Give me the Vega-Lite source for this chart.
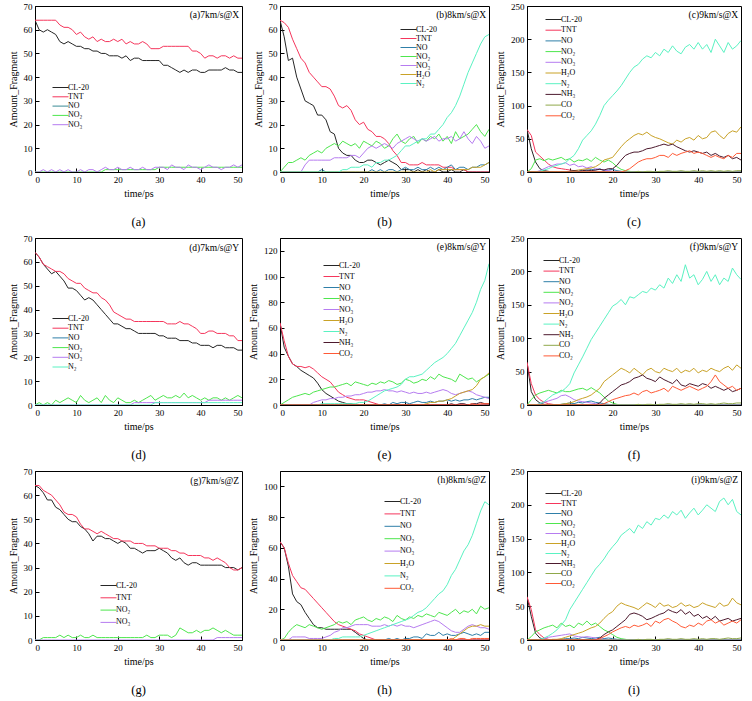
{
"$schema":"https://vega.github.io/schema/vega-lite/v6.json",
"background":"white",
"padding":{"left":7,"top":1,"right":2,"bottom":0},
"columns":3,
"align":"each",
"spacing":{"row":4,"column":5},
"config":{
 "font":"Liberation Serif",
 "view":{"stroke":"black","strokeWidth":1},
 "line":{"strokeWidth":1},
 "axis":{"grid":false,"domainColor":"black","tickColor":"black","tickSize":-4,"labelPadding":7,"labelOverlap":false,"labelFont":"Liberation Serif","labelFontSize":9,"labelColor":"black","titleFont":"Liberation Serif","titleFontSize":10,"titleFontWeight":"normal","titleColor":"black"},
 "legend":{"labelFont":"Liberation Serif","labelFontSize":8,"labelColor":"black","symbolType":"M-2,0H2","symbolStrokeWidth":1.5,"symbolSize":64,"rowPadding":0,"labelOffset":3,"padding":0},
 "title":{"font":"Liberation Serif","fontSize":12.5,"fontWeight":"normal","color":"black","orient":"bottom","anchor":"middle","frame":"group","offset":18}
},
"datasets":{
"a":[
{"t":0,"CL-20":64,"TNT":64,"NO₂":0,"NO₃":0},{"t":1,"CL-20":60,"TNT":64,"NO₂":0,"NO₃":0},{"t":2,"CL-20":59,"TNT":64,"NO₂":0,"NO₃":1},{"t":3,"CL-20":60,"TNT":64,"NO₂":0,"NO₃":0},{"t":4,"CL-20":59,"TNT":64,"NO₂":0,"NO₃":1},{"t":5,"CL-20":58,"TNT":64,"NO₂":0,"NO₃":0},{"t":6,"CL-20":55,"TNT":62,"NO₂":0,"NO₃":1},{"t":7,"CL-20":54,"TNT":61,"NO₂":0,"NO₃":0},{"t":8,"CL-20":55,"TNT":61,"NO₂":0,"NO₃":1},{"t":9,"CL-20":54,"TNT":60,"NO₂":0,"NO₃":0},
{"t":10,"CL-20":53,"TNT":58,"NO₂":0,"NO₃":0},{"t":11,"CL-20":53,"TNT":59,"NO₂":0,"NO₃":1},{"t":12,"CL-20":52,"TNT":57,"NO₂":0,"NO₃":0},{"t":13,"CL-20":52,"TNT":56,"NO₂":0,"NO₃":1},{"t":14,"CL-20":51,"TNT":57,"NO₂":0,"NO₃":1},{"t":15,"CL-20":51,"TNT":55,"NO₂":0,"NO₃":0},{"t":16,"CL-20":50,"TNT":56,"NO₂":0,"NO₃":1},{"t":17,"CL-20":50,"TNT":55,"NO₂":1,"NO₃":2},{"t":18,"CL-20":49,"TNT":55,"NO₂":1,"NO₃":1},{"t":19,"CL-20":49,"TNT":56,"NO₂":1,"NO₃":1},
{"t":20,"CL-20":49,"TNT":55,"NO₂":1,"NO₃":2},{"t":21,"CL-20":48,"TNT":56,"NO₂":1,"NO₃":1},{"t":22,"CL-20":49,"TNT":54,"NO₂":1,"NO₃":1},{"t":23,"CL-20":47,"TNT":55,"NO₂":1,"NO₃":2},{"t":24,"CL-20":48,"TNT":54,"NO₂":1,"NO₃":1},{"t":25,"CL-20":48,"TNT":54,"NO₂":1,"NO₃":1},{"t":26,"CL-20":47,"TNT":55,"NO₂":1,"NO₃":2},{"t":27,"CL-20":47,"TNT":54,"NO₂":1,"NO₃":1},{"t":28,"CL-20":47,"TNT":52,"NO₂":1,"NO₃":1},{"t":29,"CL-20":47,"TNT":52,"NO₂":1,"NO₃":2},
{"t":30,"CL-20":47,"TNT":52,"NO₂":2,"NO₃":2},{"t":31,"CL-20":45,"TNT":53,"NO₂":2,"NO₃":2},{"t":32,"CL-20":45,"TNT":53,"NO₂":2,"NO₃":1},{"t":33,"CL-20":44,"TNT":53,"NO₂":2,"NO₃":3},{"t":34,"CL-20":43,"TNT":53,"NO₂":2,"NO₃":2},{"t":35,"CL-20":42,"TNT":53,"NO₂":2,"NO₃":2},{"t":36,"CL-20":43,"TNT":53,"NO₂":2,"NO₃":1},{"t":37,"CL-20":42,"TNT":53,"NO₂":2,"NO₃":3},{"t":38,"CL-20":43,"TNT":51,"NO₂":2,"NO₃":2},{"t":39,"CL-20":43,"TNT":51,"NO₂":2,"NO₃":2},
{"t":40,"CL-20":42,"TNT":50,"NO₂":2,"NO₃":1},{"t":41,"CL-20":42,"TNT":48,"NO₂":2,"NO₃":2},{"t":42,"CL-20":43,"TNT":49,"NO₂":2,"NO₃":3},{"t":43,"CL-20":43,"TNT":49,"NO₂":2,"NO₃":2},{"t":44,"CL-20":43,"TNT":48,"NO₂":2,"NO₃":2},{"t":45,"CL-20":43,"TNT":49,"NO₂":2,"NO₃":1},{"t":46,"CL-20":44,"TNT":49,"NO₂":2,"NO₃":2},{"t":47,"CL-20":43,"TNT":48,"NO₂":2,"NO₃":2},{"t":48,"CL-20":43,"TNT":49,"NO₂":2,"NO₃":3},{"t":49,"CL-20":42,"TNT":48,"NO₂":2,"NO₃":2},
{"t":50,"CL-20":42,"TNT":48,"NO₂":2,"NO₃":3}
],
"b":[
{"t":0,"CL-20":64,"TNT":64,"NO":0,"NO₂":0,"NO₃":0,"H₂O":0,"N₂":0},{"t":1,"CL-20":57,"TNT":63,"NO":0,"NO₂":2,"NO₃":0,"H₂O":0,"N₂":0},{"t":2,"CL-20":47,"TNT":61,"NO":0,"NO₂":4,"NO₃":0,"H₂O":0,"N₂":0},{"t":3,"CL-20":48,"TNT":56,"NO":0,"NO₂":4,"NO₃":0,"H₂O":0,"N₂":0},{"t":4,"CL-20":40,"TNT":52,"NO":0,"NO₂":5,"NO₃":0,"H₂O":0,"N₂":0},{"t":5,"CL-20":35,"TNT":48,"NO":0,"NO₂":6,"NO₃":0,"H₂O":0,"N₂":0},{"t":6,"CL-20":30,"TNT":46,"NO":0,"NO₂":5,"NO₃":3,"H₂O":0,"N₂":0},{"t":7,"CL-20":29,"TNT":42,"NO":0,"NO₂":7,"NO₃":5,"H₂O":0,"N₂":0},{"t":8,"CL-20":28,"TNT":40,"NO":0,"NO₂":8,"NO₃":5,"H₂O":0,"N₂":0},{"t":9,"CL-20":24,"TNT":38,"NO":0,"NO₂":9,"NO₃":5,"H₂O":0,"N₂":0},
{"t":10,"CL-20":24,"TNT":36,"NO":1,"NO₂":8,"NO₃":5,"H₂O":0,"N₂":0},{"t":11,"CL-20":22,"TNT":36,"NO":0,"NO₂":10,"NO₃":5,"H₂O":0,"N₂":0},{"t":12,"CL-20":17,"TNT":35,"NO":0,"NO₂":11,"NO₃":5,"H₂O":0,"N₂":0},{"t":13,"CL-20":16,"TNT":32,"NO":0,"NO₂":12,"NO₃":6,"H₂O":0,"N₂":0},{"t":14,"CL-20":10,"TNT":28,"NO":0,"NO₂":11,"NO₃":6,"H₂O":0,"N₂":0},{"t":15,"CL-20":8,"TNT":27,"NO":0,"NO₂":13,"NO₃":6,"H₂O":0,"N₂":1},{"t":16,"CL-20":7,"TNT":28,"NO":0,"NO₂":12,"NO₃":6,"H₂O":0,"N₂":1},{"t":17,"CL-20":7,"TNT":26,"NO":0,"NO₂":11,"NO₃":7,"H₂O":0,"N₂":2},{"t":18,"CL-20":5,"TNT":22,"NO":0,"NO₂":12,"NO₃":7,"H₂O":0,"N₂":2},{"t":19,"CL-20":4,"TNT":20,"NO":0,"NO₂":10,"NO₃":6,"H₂O":0,"N₂":2},
{"t":20,"CL-20":4,"TNT":21,"NO":0,"NO₂":13,"NO₃":8,"H₂O":0,"N₂":3},{"t":21,"CL-20":5,"TNT":18,"NO":0,"NO₂":12,"NO₃":10,"H₂O":0,"N₂":3},{"t":22,"CL-20":5,"TNT":17,"NO":1,"NO₂":11,"NO₃":11,"H₂O":0,"N₂":2},{"t":23,"CL-20":4,"TNT":15,"NO":0,"NO₂":13,"NO₃":10,"H₂O":0,"N₂":4},{"t":24,"CL-20":3,"TNT":15,"NO":1,"NO₂":12,"NO₃":11,"H₂O":0,"N₂":4},{"t":25,"CL-20":4,"TNT":14,"NO":0,"NO₂":10,"NO₃":12,"H₂O":0,"N₂":5},{"t":26,"CL-20":5,"TNT":12,"NO":1,"NO₂":11,"NO₃":11,"H₂O":0,"N₂":5},{"t":27,"CL-20":4,"TNT":9,"NO":1,"NO₂":14,"NO₃":10,"H₂O":0,"N₂":6},{"t":28,"CL-20":3,"TNT":7,"NO":0,"NO₂":16,"NO₃":12,"H₂O":0,"N₂":7},{"t":29,"CL-20":1,"TNT":4,"NO":1,"NO₂":13,"NO₃":13,"H₂O":0,"N₂":9},
{"t":30,"CL-20":1,"TNT":4,"NO":2,"NO₂":12,"NO₃":14,"H₂O":0,"N₂":11},{"t":31,"CL-20":1,"TNT":3,"NO":1,"NO₂":14,"NO₃":15,"H₂O":0,"N₂":11},{"t":32,"CL-20":0,"TNT":3,"NO":1,"NO₂":15,"NO₃":14,"H₂O":0,"N₂":12},{"t":33,"CL-20":1,"TNT":3,"NO":2,"NO₂":12,"NO₃":13,"H₂O":0,"N₂":13},{"t":34,"CL-20":0,"TNT":4,"NO":1,"NO₂":14,"NO₃":14,"H₂O":0,"N₂":14},{"t":35,"CL-20":1,"TNT":3,"NO":1,"NO₂":13,"NO₃":13,"H₂O":0,"N₂":14},{"t":36,"CL-20":0,"TNT":3,"NO":2,"NO₂":15,"NO₃":14,"H₂O":1,"N₂":16},{"t":37,"CL-20":0,"TNT":3,"NO":1,"NO₂":14,"NO₃":15,"H₂O":0,"N₂":16},{"t":38,"CL-20":1,"TNT":3,"NO":2,"NO₂":16,"NO₃":13,"H₂O":1,"N₂":18},{"t":39,"CL-20":0,"TNT":2,"NO":1,"NO₂":13,"NO₃":14,"H₂O":1,"N₂":20},
{"t":40,"CL-20":0,"TNT":2,"NO":2,"NO₂":15,"NO₃":14,"H₂O":1,"N₂":23},{"t":41,"CL-20":1,"TNT":2,"NO":3,"NO₂":12,"NO₃":15,"H₂O":1,"N₂":25},{"t":42,"CL-20":0,"TNT":1,"NO":1,"NO₂":17,"NO₃":13,"H₂O":1,"N₂":28},{"t":43,"CL-20":0,"TNT":1,"NO":2,"NO₂":14,"NO₃":14,"H₂O":1,"N₂":32},{"t":44,"CL-20":1,"TNT":1,"NO":2,"NO₂":15,"NO₃":17,"H₂O":1,"N₂":37},{"t":45,"CL-20":0,"TNT":0,"NO":1,"NO₂":16,"NO₃":14,"H₂O":1,"N₂":42},{"t":46,"CL-20":0,"TNT":0,"NO":2,"NO₂":18,"NO₃":12,"H₂O":2,"N₂":46},{"t":47,"CL-20":0,"TNT":0,"NO":2,"NO₂":20,"NO₃":15,"H₂O":2,"N₂":50},{"t":48,"CL-20":0,"TNT":0,"NO":3,"NO₂":17,"NO₃":13,"H₂O":2,"N₂":54},{"t":49,"CL-20":0,"TNT":0,"NO":3,"NO₂":15,"NO₃":10,"H₂O":3,"N₂":57},
{"t":50,"CL-20":0,"TNT":0,"NO":4,"NO₂":18,"NO₃":11,"H₂O":4,"N₂":58}
],
"c":[
{"t":0,"CL-20":64,"TNT":64,"NO":0,"NO₂":0,"NO₃":0,"H₂O":0,"N₂":0,"NH₃":0,"CO":0,"CO₂":0},{"t":1,"CL-20":35,"TNT":55,"NO":0,"NO₂":5,"NO₃":0,"H₂O":0,"N₂":0,"NH₃":0,"CO":0,"CO₂":0},{"t":2,"CL-20":15,"TNT":30,"NO":0,"NO₂":18,"NO₃":0,"H₂O":0,"N₂":0,"NH₃":0,"CO":0,"CO₂":0},{"t":3,"CL-20":5,"TNT":24,"NO":0,"NO₂":20,"NO₃":2,"H₂O":0,"N₂":1,"NH₃":0,"CO":0,"CO₂":0},{"t":4,"CL-20":2,"TNT":18,"NO":0,"NO₂":17,"NO₃":5,"H₂O":0,"N₂":3,"NH₃":0,"CO":0,"CO₂":0},{"t":5,"CL-20":1,"TNT":12,"NO":0,"NO₂":20,"NO₃":8,"H₂O":0,"N₂":5,"NH₃":0,"CO":0,"CO₂":0},{"t":6,"CL-20":0,"TNT":8,"NO":0,"NO₂":18,"NO₃":10,"H₂O":0,"N₂":8,"NH₃":0,"CO":0,"CO₂":0},{"t":7,"CL-20":0,"TNT":6,"NO":0,"NO₂":20,"NO₃":12,"H₂O":0,"N₂":10,"NH₃":0,"CO":0,"CO₂":0},{"t":8,"CL-20":0,"TNT":5,"NO":0,"NO₂":22,"NO₃":12,"H₂O":0,"N₂":12,"NH₃":0,"CO":0,"CO₂":0},{"t":9,"CL-20":0,"TNT":4,"NO":0,"NO₂":18,"NO₃":14,"H₂O":0,"N₂":14,"NH₃":0,"CO":0,"CO₂":0},
{"t":10,"CL-20":0,"TNT":3,"NO":1,"NO₂":20,"NO₃":10,"H₂O":1,"N₂":20,"NH₃":1,"CO":0,"CO₂":0},{"t":11,"CL-20":0,"TNT":2,"NO":2,"NO₂":15,"NO₃":12,"H₂O":2,"N₂":25,"NH₃":2,"CO":0,"CO₂":0},{"t":12,"CL-20":0,"TNT":1,"NO":1,"NO₂":18,"NO₃":8,"H₂O":3,"N₂":35,"NH₃":1,"CO":0,"CO₂":0},{"t":13,"CL-20":0,"TNT":0,"NO":3,"NO₂":17,"NO₃":9,"H₂O":4,"N₂":48,"NH₃":2,"CO":0,"CO₂":0},{"t":14,"CL-20":0,"TNT":0,"NO":2,"NO₂":20,"NO₃":6,"H₂O":5,"N₂":55,"NH₃":3,"CO":0,"CO₂":0},{"t":15,"CL-20":0,"TNT":0,"NO":4,"NO₂":16,"NO₃":8,"H₂O":6,"N₂":62,"NH₃":2,"CO":0,"CO₂":0},{"t":16,"CL-20":0,"TNT":0,"NO":3,"NO₂":22,"NO₃":5,"H₂O":8,"N₂":72,"NH₃":3,"CO":0,"CO₂":0},{"t":17,"CL-20":0,"TNT":0,"NO":5,"NO₂":18,"NO₃":4,"H₂O":12,"N₂":85,"NH₃":4,"CO":0,"CO₂":0},{"t":18,"CL-20":0,"TNT":0,"NO":2,"NO₂":15,"NO₃":3,"H₂O":18,"N₂":100,"NH₃":3,"CO":0,"CO₂":0},{"t":19,"CL-20":0,"TNT":0,"NO":3,"NO₂":18,"NO₃":2,"H₂O":20,"N₂":108,"NH₃":5,"CO":0,"CO₂":0},
{"t":20,"CL-20":0,"TNT":0,"NO":4,"NO₂":14,"NO₃":1,"H₂O":22,"N₂":115,"NH₃":5,"CO":0,"CO₂":0},{"t":21,"CL-20":0,"TNT":0,"NO":2,"NO₂":8,"NO₃":0,"H₂O":30,"N₂":122,"NH₃":10,"CO":0,"CO₂":0},{"t":22,"CL-20":0,"TNT":0,"NO":1,"NO₂":4,"NO₃":0,"H₂O":38,"N₂":130,"NH₃":18,"CO":0,"CO₂":0},{"t":23,"CL-20":0,"TNT":0,"NO":0,"NO₂":2,"NO₃":0,"H₂O":45,"N₂":140,"NH₃":25,"CO":0,"CO₂":2},{"t":24,"CL-20":0,"TNT":0,"NO":0,"NO₂":1,"NO₃":0,"H₂O":50,"N₂":150,"NH₃":28,"CO":0,"CO₂":5},{"t":25,"CL-20":0,"TNT":0,"NO":0,"NO₂":0,"NO₃":0,"H₂O":55,"N₂":158,"NH₃":30,"CO":0,"CO₂":10},{"t":26,"CL-20":0,"TNT":0,"NO":0,"NO₂":0,"NO₃":0,"H₂O":58,"N₂":162,"NH₃":30,"CO":1,"CO₂":15},{"t":27,"CL-20":0,"TNT":0,"NO":0,"NO₂":0,"NO₃":0,"H₂O":56,"N₂":170,"NH₃":32,"CO":0,"CO₂":18},{"t":28,"CL-20":0,"TNT":0,"NO":0,"NO₂":0,"NO₃":0,"H₂O":60,"N₂":175,"NH₃":35,"CO":1,"CO₂":20},{"t":29,"CL-20":0,"TNT":0,"NO":0,"NO₂":0,"NO₃":0,"H₂O":55,"N₂":172,"NH₃":36,"CO":1,"CO₂":20},
{"t":30,"CL-20":0,"TNT":0,"NO":0,"NO₂":0,"NO₃":0,"H₂O":52,"N₂":180,"NH₃":38,"CO":0,"CO₂":22},{"t":31,"CL-20":0,"TNT":0,"NO":0,"NO₂":0,"NO₃":0,"H₂O":50,"N₂":175,"NH₃":40,"CO":1,"CO₂":25},{"t":32,"CL-20":0,"TNT":0,"NO":0,"NO₂":0,"NO₃":0,"H₂O":47,"N₂":185,"NH₃":42,"CO":1,"CO₂":25},{"t":33,"CL-20":0,"TNT":0,"NO":0,"NO₂":0,"NO₃":0,"H₂O":44,"N₂":180,"NH₃":40,"CO":2,"CO₂":22},{"t":34,"CL-20":0,"TNT":0,"NO":0,"NO₂":0,"NO₃":0,"H₂O":42,"N₂":190,"NH₃":42,"CO":1,"CO₂":28},{"t":35,"CL-20":0,"TNT":0,"NO":0,"NO₂":0,"NO₃":0,"H₂O":48,"N₂":182,"NH₃":38,"CO":1,"CO₂":25},{"t":36,"CL-20":0,"TNT":0,"NO":0,"NO₂":0,"NO₃":0,"H₂O":45,"N₂":178,"NH₃":35,"CO":2,"CO₂":28},{"t":37,"CL-20":0,"TNT":0,"NO":0,"NO₂":0,"NO₃":0,"H₂O":50,"N₂":188,"NH₃":32,"CO":1,"CO₂":30},{"t":38,"CL-20":0,"TNT":0,"NO":0,"NO₂":0,"NO₃":0,"H₂O":52,"N₂":192,"NH₃":30,"CO":1,"CO₂":32},{"t":39,"CL-20":0,"TNT":0,"NO":0,"NO₂":0,"NO₃":0,"H₂O":48,"N₂":185,"NH₃":32,"CO":2,"CO₂":28},
{"t":40,"CL-20":0,"TNT":0,"NO":0,"NO₂":0,"NO₃":0,"H₂O":55,"N₂":195,"NH₃":30,"CO":1,"CO₂":30},{"t":41,"CL-20":0,"TNT":0,"NO":0,"NO₂":0,"NO₃":0,"H₂O":50,"N₂":185,"NH₃":28,"CO":2,"CO₂":28},{"t":42,"CL-20":0,"TNT":0,"NO":0,"NO₂":0,"NO₃":0,"H₂O":52,"N₂":192,"NH₃":30,"CO":1,"CO₂":25},{"t":43,"CL-20":0,"TNT":0,"NO":0,"NO₂":0,"NO₃":0,"H₂O":60,"N₂":180,"NH₃":25,"CO":2,"CO₂":22},{"t":44,"CL-20":0,"TNT":0,"NO":0,"NO₂":0,"NO₃":0,"H₂O":62,"N₂":200,"NH₃":28,"CO":1,"CO₂":25},{"t":45,"CL-20":0,"TNT":0,"NO":0,"NO₂":0,"NO₃":0,"H₂O":55,"N₂":190,"NH₃":24,"CO":2,"CO₂":22},{"t":46,"CL-20":0,"TNT":0,"NO":0,"NO₂":0,"NO₃":0,"H₂O":50,"N₂":180,"NH₃":22,"CO":1,"CO₂":20},{"t":47,"CL-20":0,"TNT":0,"NO":0,"NO₂":0,"NO₃":0,"H₂O":58,"N₂":195,"NH₃":25,"CO":2,"CO₂":25},{"t":48,"CL-20":0,"TNT":0,"NO":0,"NO₂":0,"NO₃":0,"H₂O":62,"N₂":185,"NH₃":20,"CO":1,"CO₂":22},{"t":49,"CL-20":0,"TNT":0,"NO":0,"NO₂":0,"NO₃":0,"H₂O":60,"N₂":190,"NH₃":22,"CO":2,"CO₂":28},
{"t":50,"CL-20":0,"TNT":0,"NO":0,"NO₂":0,"NO₃":0,"H₂O":68,"N₂":198,"NH₃":18,"CO":2,"CO₂":28}
],
"d":[
{"t":0,"CL-20":64,"TNT":64,"NO₂":0,"NO₃":0,"N₂":0},{"t":1,"CL-20":62,"TNT":62,"NO₂":1,"NO₃":0,"N₂":0},{"t":2,"CL-20":59,"TNT":59,"NO₂":0,"NO₃":0,"N₂":0},{"t":3,"CL-20":57,"TNT":58,"NO₂":1,"NO₃":0,"N₂":0},{"t":4,"CL-20":55,"TNT":57,"NO₂":0,"NO₃":0,"N₂":0},{"t":5,"CL-20":56,"TNT":56,"NO₂":2,"NO₃":0,"N₂":0},{"t":6,"CL-20":54,"TNT":56,"NO₂":1,"NO₃":0,"N₂":0},{"t":7,"CL-20":52,"TNT":55,"NO₂":2,"NO₃":0,"N₂":0},{"t":8,"CL-20":49,"TNT":53,"NO₂":3,"NO₃":0,"N₂":0},{"t":9,"CL-20":49,"TNT":52,"NO₂":2,"NO₃":0,"N₂":0},
{"t":10,"CL-20":48,"TNT":51,"NO₂":1,"NO₃":0,"N₂":0},{"t":11,"CL-20":46,"TNT":51,"NO₂":4,"NO₃":0,"N₂":0},{"t":12,"CL-20":44,"TNT":49,"NO₂":2,"NO₃":0,"N₂":0},{"t":13,"CL-20":45,"TNT":48,"NO₂":1,"NO₃":0,"N₂":0},{"t":14,"CL-20":44,"TNT":47,"NO₂":2,"NO₃":0,"N₂":0},{"t":15,"CL-20":42,"TNT":47,"NO₂":3,"NO₃":0,"N₂":0},{"t":16,"CL-20":40,"TNT":45,"NO₂":1,"NO₃":0,"N₂":0},{"t":17,"CL-20":38,"TNT":44,"NO₂":4,"NO₃":0,"N₂":0},{"t":18,"CL-20":36,"TNT":42,"NO₂":2,"NO₃":0,"N₂":0},{"t":19,"CL-20":34,"TNT":39,"NO₂":1,"NO₃":0,"N₂":0},
{"t":20,"CL-20":34,"TNT":38,"NO₂":3,"NO₃":0,"N₂":0},{"t":21,"CL-20":33,"TNT":37,"NO₂":2,"NO₃":0,"N₂":0},{"t":22,"CL-20":32,"TNT":36,"NO₂":1,"NO₃":0,"N₂":0},{"t":23,"CL-20":32,"TNT":36,"NO₂":1,"NO₃":0,"N₂":0},{"t":24,"CL-20":31,"TNT":35,"NO₂":2,"NO₃":1,"N₂":0},{"t":25,"CL-20":30,"TNT":35,"NO₂":1,"NO₃":1,"N₂":0},{"t":26,"CL-20":30,"TNT":35,"NO₂":2,"NO₃":1,"N₂":0},{"t":27,"CL-20":30,"TNT":35,"NO₂":3,"NO₃":1,"N₂":0},{"t":28,"CL-20":30,"TNT":35,"NO₂":4,"NO₃":1,"N₂":0},{"t":29,"CL-20":30,"TNT":35,"NO₂":2,"NO₃":1,"N₂":1},
{"t":30,"CL-20":29,"TNT":35,"NO₂":3,"NO₃":1,"N₂":1},{"t":31,"CL-20":29,"TNT":35,"NO₂":4,"NO₃":1,"N₂":1},{"t":32,"CL-20":28,"TNT":34,"NO₂":3,"NO₃":1,"N₂":1},{"t":33,"CL-20":28,"TNT":34,"NO₂":3,"NO₃":1,"N₂":1},{"t":34,"CL-20":28,"TNT":34,"NO₂":4,"NO₃":1,"N₂":1},{"t":35,"CL-20":27,"TNT":35,"NO₂":3,"NO₃":1,"N₂":1},{"t":36,"CL-20":27,"TNT":34,"NO₂":5,"NO₃":1,"N₂":1},{"t":37,"CL-20":27,"TNT":34,"NO₂":3,"NO₃":1,"N₂":1},{"t":38,"CL-20":26,"TNT":33,"NO₂":4,"NO₃":1,"N₂":1},{"t":39,"CL-20":26,"TNT":32,"NO₂":3,"NO₃":1,"N₂":1},
{"t":40,"CL-20":25,"TNT":30,"NO₂":2,"NO₃":1,"N₂":1},{"t":41,"CL-20":25,"TNT":30,"NO₂":3,"NO₃":1,"N₂":1},{"t":42,"CL-20":25,"TNT":31,"NO₂":2,"NO₃":2,"N₂":1},{"t":43,"CL-20":24,"TNT":31,"NO₂":3,"NO₃":2,"N₂":1},{"t":44,"CL-20":25,"TNT":30,"NO₂":3,"NO₃":2,"N₂":1},{"t":45,"CL-20":25,"TNT":30,"NO₂":2,"NO₃":2,"N₂":1},{"t":46,"CL-20":24,"TNT":30,"NO₂":3,"NO₃":2,"N₂":1},{"t":47,"CL-20":24,"TNT":29,"NO₂":2,"NO₃":2,"N₂":1},{"t":48,"CL-20":24,"TNT":29,"NO₂":3,"NO₃":2,"N₂":1},{"t":49,"CL-20":23,"TNT":27,"NO₂":4,"NO₃":2,"N₂":1},
{"t":50,"CL-20":23,"TNT":27,"NO₂":3,"NO₃":2,"N₂":1}
],
"e":[
{"t":0,"CL-20":64,"TNT":64,"NO":0,"NO₂":0,"NO₃":0,"H₂O":0,"N₂":0,"NH₃":0,"CO₂":0},{"t":1,"CL-20":45,"TNT":50,"NO":0,"NO₂":2,"NO₃":0,"H₂O":0,"N₂":0,"NH₃":0,"CO₂":0},{"t":2,"CL-20":38,"TNT":38,"NO":0,"NO₂":4,"NO₃":0,"H₂O":0,"N₂":0,"NH₃":0,"CO₂":0},{"t":3,"CL-20":32,"TNT":32,"NO":0,"NO₂":6,"NO₃":0,"H₂O":0,"N₂":0,"NH₃":0,"CO₂":0},{"t":4,"CL-20":30,"TNT":30,"NO":0,"NO₂":7,"NO₃":0,"H₂O":0,"N₂":0,"NH₃":0,"CO₂":0},{"t":5,"CL-20":27,"TNT":30,"NO":0,"NO₂":8,"NO₃":0,"H₂O":0,"N₂":0,"NH₃":0,"CO₂":0},{"t":6,"CL-20":25,"TNT":29,"NO":0,"NO₂":9,"NO₃":0,"H₂O":0,"N₂":0,"NH₃":0,"CO₂":0},{"t":7,"CL-20":23,"TNT":30,"NO":0,"NO₂":8,"NO₃":0,"H₂O":0,"N₂":0,"NH₃":0,"CO₂":0},{"t":8,"CL-20":21,"TNT":28,"NO":0,"NO₂":10,"NO₃":2,"H₂O":0,"N₂":0,"NH₃":0,"CO₂":0},{"t":9,"CL-20":17,"TNT":25,"NO":0,"NO₂":11,"NO₃":3,"H₂O":0,"N₂":0,"NH₃":0,"CO₂":0},
{"t":10,"CL-20":12,"TNT":22,"NO":0,"NO₂":12,"NO₃":4,"H₂O":0,"N₂":1,"NH₃":0,"CO₂":0},{"t":11,"CL-20":9,"TNT":20,"NO":0,"NO₂":13,"NO₃":4,"H₂O":0,"N₂":1,"NH₃":0,"CO₂":0},{"t":12,"CL-20":7,"TNT":18,"NO":0,"NO₂":14,"NO₃":5,"H₂O":0,"N₂":1,"NH₃":0,"CO₂":0},{"t":13,"CL-20":5,"TNT":14,"NO":0,"NO₂":14,"NO₃":5,"H₂O":0,"N₂":1,"NH₃":0,"CO₂":0},{"t":14,"CL-20":3,"TNT":10,"NO":0,"NO₂":15,"NO₃":6,"H₂O":0,"N₂":1,"NH₃":0,"CO₂":0},{"t":15,"CL-20":2,"TNT":8,"NO":0,"NO₂":16,"NO₃":6,"H₂O":0,"N₂":1,"NH₃":0,"CO₂":0},{"t":16,"CL-20":1,"TNT":6,"NO":0,"NO₂":17,"NO₃":7,"H₂O":0,"N₂":1,"NH₃":0,"CO₂":0},{"t":17,"CL-20":1,"TNT":5,"NO":0,"NO₂":15,"NO₃":7,"H₂O":0,"N₂":1,"NH₃":0,"CO₂":0},{"t":18,"CL-20":0,"TNT":4,"NO":0,"NO₂":18,"NO₃":8,"H₂O":0,"N₂":1,"NH₃":0,"CO₂":0},{"t":19,"CL-20":0,"TNT":4,"NO":0,"NO₂":17,"NO₃":8,"H₂O":0,"N₂":2,"NH₃":0,"CO₂":0},
{"t":20,"CL-20":0,"TNT":4,"NO":0,"NO₂":16,"NO₃":9,"H₂O":0,"N₂":2,"NH₃":0,"CO₂":0},{"t":21,"CL-20":0,"TNT":3,"NO":0,"NO₂":15,"NO₃":10,"H₂O":0,"N₂":3,"NH₃":0,"CO₂":0},{"t":22,"CL-20":0,"TNT":2,"NO":0,"NO₂":17,"NO₃":10,"H₂O":0,"N₂":5,"NH₃":0,"CO₂":0},{"t":23,"CL-20":0,"TNT":1,"NO":0,"NO₂":16,"NO₃":11,"H₂O":0,"N₂":7,"NH₃":0,"CO₂":0},{"t":24,"CL-20":0,"TNT":0,"NO":0,"NO₂":18,"NO₃":11,"H₂O":0,"N₂":9,"NH₃":0,"CO₂":0},{"t":25,"CL-20":0,"TNT":0,"NO":1,"NO₂":17,"NO₃":12,"H₂O":0,"N₂":11,"NH₃":0,"CO₂":0},{"t":26,"CL-20":0,"TNT":0,"NO":0,"NO₂":19,"NO₃":11,"H₂O":0,"N₂":12,"NH₃":0,"CO₂":0},{"t":27,"CL-20":0,"TNT":0,"NO":2,"NO₂":18,"NO₃":11,"H₂O":0,"N₂":13,"NH₃":0,"CO₂":0},{"t":28,"CL-20":0,"TNT":0,"NO":1,"NO₂":16,"NO₃":10,"H₂O":0,"N₂":14,"NH₃":0,"CO₂":0},{"t":29,"CL-20":0,"TNT":0,"NO":2,"NO₂":17,"NO₃":11,"H₂O":0,"N₂":16,"NH₃":0,"CO₂":0},
{"t":30,"CL-20":0,"TNT":0,"NO":2,"NO₂":20,"NO₃":10,"H₂O":0,"N₂":20,"NH₃":0,"CO₂":0},{"t":31,"CL-20":0,"TNT":0,"NO":1,"NO₂":19,"NO₃":9,"H₂O":0,"N₂":22,"NH₃":0,"CO₂":0},{"t":32,"CL-20":0,"TNT":0,"NO":2,"NO₂":17,"NO₃":10,"H₂O":0,"N₂":22,"NH₃":0,"CO₂":0},{"t":33,"CL-20":0,"TNT":0,"NO":3,"NO₂":18,"NO₃":9,"H₂O":0,"N₂":23,"NH₃":0,"CO₂":0},{"t":34,"CL-20":0,"TNT":0,"NO":2,"NO₂":20,"NO₃":9,"H₂O":0,"N₂":24,"NH₃":0,"CO₂":0},{"t":35,"CL-20":0,"TNT":0,"NO":2,"NO₂":19,"NO₃":10,"H₂O":1,"N₂":27,"NH₃":0,"CO₂":0},{"t":36,"CL-20":0,"TNT":0,"NO":3,"NO₂":22,"NO₃":9,"H₂O":2,"N₂":30,"NH₃":0,"CO₂":0},{"t":37,"CL-20":0,"TNT":0,"NO":2,"NO₂":20,"NO₃":10,"H₂O":2,"N₂":33,"NH₃":0,"CO₂":0},{"t":38,"CL-20":0,"TNT":0,"NO":3,"NO₂":24,"NO₃":11,"H₂O":3,"N₂":35,"NH₃":0,"CO₂":0},{"t":39,"CL-20":0,"TNT":0,"NO":3,"NO₂":22,"NO₃":12,"H₂O":3,"N₂":37,"NH₃":0,"CO₂":0},
{"t":40,"CL-20":0,"TNT":0,"NO":4,"NO₂":21,"NO₃":11,"H₂O":4,"N₂":40,"NH₃":0,"CO₂":0},{"t":41,"CL-20":0,"TNT":0,"NO":3,"NO₂":20,"NO₃":9,"H₂O":5,"N₂":44,"NH₃":1,"CO₂":0},{"t":42,"CL-20":0,"TNT":0,"NO":4,"NO₂":18,"NO₃":8,"H₂O":7,"N₂":48,"NH₃":0,"CO₂":0},{"t":43,"CL-20":0,"TNT":0,"NO":3,"NO₂":24,"NO₃":9,"H₂O":9,"N₂":54,"NH₃":1,"CO₂":0},{"t":44,"CL-20":0,"TNT":0,"NO":4,"NO₂":22,"NO₃":10,"H₂O":10,"N₂":60,"NH₃":1,"CO₂":0},{"t":45,"CL-20":0,"TNT":0,"NO":4,"NO₂":20,"NO₃":11,"H₂O":11,"N₂":66,"NH₃":0,"CO₂":0},{"t":46,"CL-20":0,"TNT":0,"NO":5,"NO₂":21,"NO₃":10,"H₂O":12,"N₂":72,"NH₃":1,"CO₂":1},{"t":47,"CL-20":0,"TNT":0,"NO":4,"NO₂":18,"NO₃":8,"H₂O":15,"N₂":80,"NH₃":1,"CO₂":0},{"t":48,"CL-20":0,"TNT":0,"NO":5,"NO₂":20,"NO₃":7,"H₂O":20,"N₂":90,"NH₃":2,"CO₂":1},{"t":49,"CL-20":0,"TNT":0,"NO":6,"NO₂":22,"NO₃":6,"H₂O":22,"N₂":97,"NH₃":1,"CO₂":1},
{"t":50,"CL-20":0,"TNT":0,"NO":6,"NO₂":24,"NO₃":5,"H₂O":25,"N₂":110,"NH₃":1,"CO₂":1}
],
"f":[
{"t":0,"CL-20":64,"TNT":64,"NO":0,"NO₂":0,"NO₃":0,"H₂O":0,"N₂":0,"NH₃":0,"CO":0,"CO₂":0},{"t":1,"CL-20":20,"TNT":32,"NO":0,"NO₂":8,"NO₃":0,"H₂O":0,"N₂":0,"NH₃":0,"CO":0,"CO₂":0},{"t":2,"CL-20":8,"TNT":15,"NO":0,"NO₂":15,"NO₃":0,"H₂O":0,"N₂":0,"NH₃":0,"CO":0,"CO₂":0},{"t":3,"CL-20":3,"TNT":8,"NO":0,"NO₂":18,"NO₃":2,"H₂O":0,"N₂":2,"NH₃":0,"CO":0,"CO₂":0},{"t":4,"CL-20":1,"TNT":4,"NO":0,"NO₂":20,"NO₃":4,"H₂O":0,"N₂":5,"NH₃":0,"CO":0,"CO₂":0},{"t":5,"CL-20":0,"TNT":2,"NO":0,"NO₂":22,"NO₃":6,"H₂O":0,"N₂":10,"NH₃":0,"CO":0,"CO₂":0},{"t":6,"CL-20":0,"TNT":1,"NO":0,"NO₂":20,"NO₃":8,"H₂O":0,"N₂":15,"NH₃":0,"CO":0,"CO₂":0},{"t":7,"CL-20":0,"TNT":0,"NO":0,"NO₂":18,"NO₃":10,"H₂O":0,"N₂":18,"NH₃":0,"CO":0,"CO₂":0},{"t":8,"CL-20":0,"TNT":0,"NO":1,"NO₂":22,"NO₃":14,"H₂O":1,"N₂":20,"NH₃":0,"CO":0,"CO₂":0},{"t":9,"CL-20":0,"TNT":0,"NO":2,"NO₂":20,"NO₃":15,"H₂O":2,"N₂":25,"NH₃":0,"CO":0,"CO₂":0},
{"t":10,"CL-20":0,"TNT":0,"NO":3,"NO₂":20,"NO₃":12,"H₂O":3,"N₂":32,"NH₃":0,"CO":0,"CO₂":0},{"t":11,"CL-20":0,"TNT":0,"NO":2,"NO₂":22,"NO₃":8,"H₂O":5,"N₂":48,"NH₃":0,"CO":0,"CO₂":0},{"t":12,"CL-20":0,"TNT":0,"NO":4,"NO₂":24,"NO₃":6,"H₂O":8,"N₂":60,"NH₃":0,"CO":0,"CO₂":0},{"t":13,"CL-20":0,"TNT":0,"NO":3,"NO₂":25,"NO₃":5,"H₂O":10,"N₂":72,"NH₃":0,"CO":0,"CO₂":0},{"t":14,"CL-20":0,"TNT":0,"NO":5,"NO₂":22,"NO₃":4,"H₂O":12,"N₂":85,"NH₃":0,"CO":0,"CO₂":0},{"t":15,"CL-20":0,"TNT":0,"NO":6,"NO₂":26,"NO₃":3,"H₂O":15,"N₂":98,"NH₃":0,"CO":0,"CO₂":0},{"t":16,"CL-20":0,"TNT":0,"NO":4,"NO₂":22,"NO₃":2,"H₂O":20,"N₂":108,"NH₃":0,"CO":0,"CO₂":0},{"t":17,"CL-20":0,"TNT":0,"NO":3,"NO₂":18,"NO₃":1,"H₂O":25,"N₂":118,"NH₃":3,"CO":0,"CO₂":0},{"t":18,"CL-20":0,"TNT":0,"NO":2,"NO₂":12,"NO₃":0,"H₂O":35,"N₂":128,"NH₃":10,"CO":0,"CO₂":2},{"t":19,"CL-20":0,"TNT":0,"NO":1,"NO₂":6,"NO₃":0,"H₂O":40,"N₂":138,"NH₃":15,"CO":0,"CO₂":5},
{"t":20,"CL-20":0,"TNT":0,"NO":0,"NO₂":3,"NO₃":0,"H₂O":45,"N₂":148,"NH₃":20,"CO":0,"CO₂":8},{"t":21,"CL-20":0,"TNT":0,"NO":0,"NO₂":1,"NO₃":0,"H₂O":50,"N₂":152,"NH₃":25,"CO":0,"CO₂":10},{"t":22,"CL-20":0,"TNT":0,"NO":0,"NO₂":0,"NO₃":0,"H₂O":55,"N₂":158,"NH₃":30,"CO":0,"CO₂":12},{"t":23,"CL-20":0,"TNT":0,"NO":0,"NO₂":0,"NO₃":0,"H₂O":52,"N₂":150,"NH₃":32,"CO":0,"CO₂":14},{"t":24,"CL-20":0,"TNT":0,"NO":0,"NO₂":0,"NO₃":0,"H₂O":48,"N₂":162,"NH₃":35,"CO":0,"CO₂":15},{"t":25,"CL-20":0,"TNT":0,"NO":0,"NO₂":0,"NO₃":0,"H₂O":55,"N₂":160,"NH₃":40,"CO":0,"CO₂":18},{"t":26,"CL-20":0,"TNT":0,"NO":0,"NO₂":0,"NO₃":0,"H₂O":50,"N₂":165,"NH₃":42,"CO":1,"CO₂":15},{"t":27,"CL-20":0,"TNT":0,"NO":0,"NO₂":0,"NO₃":0,"H₂O":45,"N₂":170,"NH₃":45,"CO":0,"CO₂":20},{"t":28,"CL-20":0,"TNT":0,"NO":0,"NO₂":0,"NO₃":0,"H₂O":52,"N₂":168,"NH₃":40,"CO":1,"CO₂":22},{"t":29,"CL-20":0,"TNT":0,"NO":0,"NO₂":0,"NO₃":0,"H₂O":55,"N₂":175,"NH₃":38,"CO":1,"CO₂":18},
{"t":30,"CL-20":0,"TNT":0,"NO":0,"NO₂":0,"NO₃":0,"H₂O":50,"N₂":172,"NH₃":35,"CO":0,"CO₂":20},{"t":31,"CL-20":0,"TNT":0,"NO":0,"NO₂":0,"NO₃":0,"H₂O":48,"N₂":180,"NH₃":42,"CO":1,"CO₂":22},{"t":32,"CL-20":0,"TNT":0,"NO":0,"NO₂":0,"NO₃":0,"H₂O":55,"N₂":175,"NH₃":38,"CO":1,"CO₂":25},{"t":33,"CL-20":0,"TNT":0,"NO":0,"NO₂":0,"NO₃":0,"H₂O":52,"N₂":190,"NH₃":35,"CO":2,"CO₂":20},{"t":34,"CL-20":0,"TNT":0,"NO":0,"NO₂":0,"NO₃":0,"H₂O":50,"N₂":182,"NH₃":32,"CO":1,"CO₂":28},{"t":35,"CL-20":0,"TNT":0,"NO":0,"NO₂":0,"NO₃":0,"H₂O":55,"N₂":195,"NH₃":38,"CO":1,"CO₂":25},{"t":36,"CL-20":0,"TNT":0,"NO":0,"NO₂":0,"NO₃":0,"H₂O":48,"N₂":185,"NH₃":30,"CO":2,"CO₂":22},{"t":37,"CL-20":0,"TNT":0,"NO":0,"NO₂":0,"NO₃":0,"H₂O":52,"N₂":210,"NH₃":28,"CO":1,"CO₂":25},{"t":38,"CL-20":0,"TNT":0,"NO":0,"NO₂":0,"NO₃":0,"H₂O":50,"N₂":190,"NH₃":32,"CO":2,"CO₂":28},{"t":39,"CL-20":0,"TNT":0,"NO":0,"NO₂":0,"NO₃":0,"H₂O":55,"N₂":195,"NH₃":30,"CO":1,"CO₂":25},
{"t":40,"CL-20":0,"TNT":0,"NO":0,"NO₂":0,"NO₃":0,"H₂O":48,"N₂":180,"NH₃":28,"CO":2,"CO₂":22},{"t":41,"CL-20":0,"TNT":0,"NO":0,"NO₂":0,"NO₃":0,"H₂O":52,"N₂":188,"NH₃":32,"CO":2,"CO₂":25},{"t":42,"CL-20":0,"TNT":0,"NO":0,"NO₂":0,"NO₃":0,"H₂O":50,"N₂":200,"NH₃":30,"CO":1,"CO₂":28},{"t":43,"CL-20":0,"TNT":0,"NO":0,"NO₂":0,"NO₃":0,"H₂O":55,"N₂":185,"NH₃":25,"CO":2,"CO₂":35},{"t":44,"CL-20":0,"TNT":0,"NO":0,"NO₂":0,"NO₃":0,"H₂O":52,"N₂":195,"NH₃":28,"CO":1,"CO₂":45},{"t":45,"CL-20":0,"TNT":0,"NO":0,"NO₂":0,"NO₃":0,"H₂O":50,"N₂":180,"NH₃":25,"CO":2,"CO₂":35},{"t":46,"CL-20":0,"TNT":0,"NO":0,"NO₂":0,"NO₃":0,"H₂O":55,"N₂":190,"NH₃":22,"CO":3,"CO₂":30},{"t":47,"CL-20":0,"TNT":0,"NO":0,"NO₂":0,"NO₃":0,"H₂O":58,"N₂":185,"NH₃":25,"CO":2,"CO₂":25},{"t":48,"CL-20":0,"TNT":0,"NO":0,"NO₂":0,"NO₃":0,"H₂O":52,"N₂":205,"NH₃":20,"CO":2,"CO₂":28},{"t":49,"CL-20":0,"TNT":0,"NO":0,"NO₂":0,"NO₃":0,"H₂O":60,"N₂":195,"NH₃":22,"CO":3,"CO₂":22},
{"t":50,"CL-20":0,"TNT":0,"NO":0,"NO₂":0,"NO₃":0,"H₂O":55,"N₂":188,"NH₃":25,"CO":3,"CO₂":25}
],
"g":[
{"t":0,"CL-20":64,"TNT":64,"NO₂":0,"NO₃":0},{"t":1,"CL-20":63,"TNT":64,"NO₂":0,"NO₃":0},{"t":2,"CL-20":61,"TNT":62,"NO₂":1,"NO₃":0},{"t":3,"CL-20":58,"TNT":61,"NO₂":1,"NO₃":0},{"t":4,"CL-20":58,"TNT":60,"NO₂":1,"NO₃":0},{"t":5,"CL-20":55,"TNT":58,"NO₂":1,"NO₃":0},{"t":6,"CL-20":54,"TNT":56,"NO₂":2,"NO₃":0},{"t":7,"CL-20":52,"TNT":53,"NO₂":1,"NO₃":0},{"t":8,"CL-20":50,"TNT":52,"NO₂":2,"NO₃":0},{"t":9,"CL-20":49,"TNT":52,"NO₂":1,"NO₃":0},
{"t":10,"CL-20":49,"TNT":51,"NO₂":1,"NO₃":0},{"t":11,"CL-20":47,"TNT":48,"NO₂":2,"NO₃":0},{"t":12,"CL-20":46,"TNT":46,"NO₂":1,"NO₃":0},{"t":13,"CL-20":44,"TNT":46,"NO₂":1,"NO₃":0},{"t":14,"CL-20":41,"TNT":45,"NO₂":2,"NO₃":0},{"t":15,"CL-20":43,"TNT":44,"NO₂":1,"NO₃":0},{"t":16,"CL-20":43,"TNT":45,"NO₂":1,"NO₃":0},{"t":17,"CL-20":42,"TNT":44,"NO₂":1,"NO₃":0},{"t":18,"CL-20":42,"TNT":43,"NO₂":1,"NO₃":0},{"t":19,"CL-20":41,"TNT":42,"NO₂":1,"NO₃":0},
{"t":20,"CL-20":40,"TNT":42,"NO₂":1,"NO₃":0},{"t":21,"CL-20":41,"TNT":41,"NO₂":1,"NO₃":0},{"t":22,"CL-20":40,"TNT":41,"NO₂":1,"NO₃":0},{"t":23,"CL-20":38,"TNT":41,"NO₂":1,"NO₃":0},{"t":24,"CL-20":38,"TNT":40,"NO₂":1,"NO₃":0},{"t":25,"CL-20":37,"TNT":40,"NO₂":1,"NO₃":0},{"t":26,"CL-20":36,"TNT":40,"NO₂":1,"NO₃":0},{"t":27,"CL-20":37,"TNT":39,"NO₂":2,"NO₃":0},{"t":28,"CL-20":37,"TNT":39,"NO₂":1,"NO₃":0},{"t":29,"CL-20":37,"TNT":39,"NO₂":1,"NO₃":0},
{"t":30,"CL-20":38,"TNT":38,"NO₂":2,"NO₃":0},{"t":31,"CL-20":37,"TNT":38,"NO₂":2,"NO₃":0},{"t":32,"CL-20":36,"TNT":38,"NO₂":2,"NO₃":0},{"t":33,"CL-20":34,"TNT":37,"NO₂":1,"NO₃":0},{"t":34,"CL-20":33,"TNT":37,"NO₂":2,"NO₃":0},{"t":35,"CL-20":34,"TNT":36,"NO₂":5,"NO₃":0},{"t":36,"CL-20":32,"TNT":36,"NO₂":4,"NO₃":0},{"t":37,"CL-20":31,"TNT":35,"NO₂":3,"NO₃":0},{"t":38,"CL-20":32,"TNT":35,"NO₂":3,"NO₃":0},{"t":39,"CL-20":32,"TNT":35,"NO₂":4,"NO₃":0},
{"t":40,"CL-20":31,"TNT":35,"NO₂":3,"NO₃":0},{"t":41,"CL-20":31,"TNT":34,"NO₂":4,"NO₃":0},{"t":42,"CL-20":31,"TNT":34,"NO₂":4,"NO₃":0},{"t":43,"CL-20":31,"TNT":33,"NO₂":5,"NO₃":0},{"t":44,"CL-20":31,"TNT":34,"NO₂":4,"NO₃":1},{"t":45,"CL-20":31,"TNT":33,"NO₂":3,"NO₃":1},{"t":46,"CL-20":30,"TNT":32,"NO₂":4,"NO₃":1},{"t":47,"CL-20":30,"TNT":30,"NO₂":3,"NO₃":1},{"t":48,"CL-20":30,"TNT":29,"NO₂":2,"NO₃":1},{"t":49,"CL-20":29,"TNT":29,"NO₂":2,"NO₃":1},
{"t":50,"CL-20":30,"TNT":30,"NO₂":2,"NO₃":1}
],
"h":[
{"t":0,"CL-20":64,"TNT":64,"NO":0,"NO₂":0,"NO₃":0,"H₂O":0,"N₂":0,"CO₂":0},{"t":1,"CL-20":60,"TNT":60,"NO":0,"NO₂":1,"NO₃":0,"H₂O":0,"N₂":0,"CO₂":0},{"t":2,"CL-20":48,"TNT":50,"NO":0,"NO₂":5,"NO₃":0,"H₂O":0,"N₂":0,"CO₂":0},{"t":3,"CL-20":30,"TNT":42,"NO":0,"NO₂":8,"NO₃":2,"H₂O":0,"N₂":0,"CO₂":0},{"t":4,"CL-20":25,"TNT":38,"NO":0,"NO₂":10,"NO₃":2,"H₂O":0,"N₂":0,"CO₂":0},{"t":5,"CL-20":23,"TNT":34,"NO":0,"NO₂":9,"NO₃":2,"H₂O":0,"N₂":0,"CO₂":0},{"t":6,"CL-20":18,"TNT":33,"NO":0,"NO₂":8,"NO₃":2,"H₂O":0,"N₂":0,"CO₂":0},{"t":7,"CL-20":14,"TNT":30,"NO":0,"NO₂":10,"NO₃":1,"H₂O":0,"N₂":0,"CO₂":0},{"t":8,"CL-20":10,"TNT":27,"NO":0,"NO₂":9,"NO₃":1,"H₂O":0,"N₂":0,"CO₂":0},{"t":9,"CL-20":8,"TNT":24,"NO":0,"NO₂":8,"NO₃":1,"H₂O":0,"N₂":0,"CO₂":0},
{"t":10,"CL-20":8,"TNT":21,"NO":0,"NO₂":7,"NO₃":1,"H₂O":0,"N₂":0,"CO₂":0},{"t":11,"CL-20":7,"TNT":18,"NO":0,"NO₂":8,"NO₃":2,"H₂O":0,"N₂":0,"CO₂":0},{"t":12,"CL-20":7,"TNT":15,"NO":0,"NO₂":9,"NO₃":3,"H₂O":0,"N₂":0,"CO₂":0},{"t":13,"CL-20":7,"TNT":12,"NO":0,"NO₂":10,"NO₃":5,"H₂O":0,"N₂":1,"CO₂":0},{"t":14,"CL-20":7,"TNT":10,"NO":0,"NO₂":12,"NO₃":6,"H₂O":0,"N₂":1,"CO₂":0},{"t":15,"CL-20":7,"TNT":9,"NO":0,"NO₂":11,"NO₃":8,"H₂O":0,"N₂":2,"CO₂":0},{"t":16,"CL-20":7,"TNT":8,"NO":0,"NO₂":12,"NO₃":8,"H₂O":0,"N₂":2,"CO₂":0},{"t":17,"CL-20":7,"TNT":7,"NO":0,"NO₂":10,"NO₃":9,"H₂O":0,"N₂":2,"CO₂":0},{"t":18,"CL-20":5,"TNT":6,"NO":0,"NO₂":13,"NO₃":10,"H₂O":0,"N₂":2,"CO₂":0},{"t":19,"CL-20":3,"TNT":4,"NO":0,"NO₂":14,"NO₃":10,"H₂O":0,"N₂":2,"CO₂":0},
{"t":20,"CL-20":1,"TNT":3,"NO":0,"NO₂":15,"NO₃":10,"H₂O":0,"N₂":3,"CO₂":0},{"t":21,"CL-20":0,"TNT":2,"NO":0,"NO₂":13,"NO₃":10,"H₂O":0,"N₂":4,"CO₂":0},{"t":22,"CL-20":0,"TNT":1,"NO":0,"NO₂":12,"NO₃":9,"H₂O":0,"N₂":5,"CO₂":0},{"t":23,"CL-20":0,"TNT":0,"NO":0,"NO₂":14,"NO₃":9,"H₂O":0,"N₂":6,"CO₂":0},{"t":24,"CL-20":0,"TNT":0,"NO":0,"NO₂":13,"NO₃":9,"H₂O":0,"N₂":7,"CO₂":0},{"t":25,"CL-20":0,"TNT":0,"NO":0,"NO₂":15,"NO₃":10,"H₂O":0,"N₂":8,"CO₂":0},{"t":26,"CL-20":0,"TNT":0,"NO":1,"NO₂":14,"NO₃":9,"H₂O":0,"N₂":9,"CO₂":0},{"t":27,"CL-20":0,"TNT":0,"NO":0,"NO₂":12,"NO₃":10,"H₂O":0,"N₂":10,"CO₂":0},{"t":28,"CL-20":0,"TNT":0,"NO":1,"NO₂":16,"NO₃":9,"H₂O":0,"N₂":11,"CO₂":0},{"t":29,"CL-20":0,"TNT":0,"NO":0,"NO₂":14,"NO₃":10,"H₂O":0,"N₂":12,"CO₂":0},
{"t":30,"CL-20":0,"TNT":0,"NO":1,"NO₂":13,"NO₃":9,"H₂O":0,"N₂":13,"CO₂":0},{"t":31,"CL-20":0,"TNT":0,"NO":1,"NO₂":15,"NO₃":9,"H₂O":0,"N₂":14,"CO₂":0},{"t":32,"CL-20":0,"TNT":0,"NO":2,"NO₂":14,"NO₃":8,"H₂O":0,"N₂":16,"CO₂":0},{"t":33,"CL-20":0,"TNT":0,"NO":2,"NO₂":16,"NO₃":9,"H₂O":0,"N₂":18,"CO₂":0},{"t":34,"CL-20":0,"TNT":0,"NO":1,"NO₂":15,"NO₃":10,"H₂O":0,"N₂":19,"CO₂":0},{"t":35,"CL-20":0,"TNT":0,"NO":4,"NO₂":17,"NO₃":11,"H₂O":0,"N₂":21,"CO₂":0},{"t":36,"CL-20":0,"TNT":0,"NO":3,"NO₂":16,"NO₃":12,"H₂O":0,"N₂":24,"CO₂":0},{"t":37,"CL-20":0,"TNT":0,"NO":3,"NO₂":15,"NO₃":13,"H₂O":0,"N₂":27,"CO₂":0},{"t":38,"CL-20":0,"TNT":0,"NO":5,"NO₂":18,"NO₃":12,"H₂O":0,"N₂":30,"CO₂":0},{"t":39,"CL-20":0,"TNT":0,"NO":3,"NO₂":17,"NO₃":10,"H₂O":0,"N₂":32,"CO₂":0},
{"t":40,"CL-20":0,"TNT":0,"NO":4,"NO₂":16,"NO₃":8,"H₂O":0,"N₂":36,"CO₂":0},{"t":41,"CL-20":0,"TNT":0,"NO":3,"NO₂":18,"NO₃":6,"H₂O":0,"N₂":42,"CO₂":1},{"t":42,"CL-20":0,"TNT":0,"NO":3,"NO₂":20,"NO₃":5,"H₂O":2,"N₂":46,"CO₂":0},{"t":43,"CL-20":0,"TNT":0,"NO":4,"NO₂":17,"NO₃":5,"H₂O":4,"N₂":52,"CO₂":1},{"t":44,"CL-20":0,"TNT":0,"NO":5,"NO₂":19,"NO₃":7,"H₂O":6,"N₂":58,"CO₂":1},{"t":45,"CL-20":0,"TNT":0,"NO":4,"NO₂":18,"NO₃":9,"H₂O":8,"N₂":62,"CO₂":0},{"t":46,"CL-20":0,"TNT":0,"NO":3,"NO₂":20,"NO₃":10,"H₂O":9,"N₂":68,"CO₂":1},{"t":47,"CL-20":0,"TNT":0,"NO":4,"NO₂":17,"NO₃":9,"H₂O":9,"N₂":76,"CO₂":1},{"t":48,"CL-20":0,"TNT":0,"NO":3,"NO₂":22,"NO₃":8,"H₂O":10,"N₂":84,"CO₂":1},{"t":49,"CL-20":0,"TNT":0,"NO":5,"NO₂":20,"NO₃":8,"H₂O":9,"N₂":90,"CO₂":1},
{"t":50,"CL-20":0,"TNT":0,"NO":5,"NO₂":21,"NO₃":7,"H₂O":9,"N₂":88,"CO₂":1}
],
"i":[
{"t":0,"CL-20":64,"TNT":64,"NO":0,"NO₂":0,"NO₃":0,"H₂O":0,"N₂":0,"NH₃":0,"CO":0,"CO₂":0},{"t":1,"CL-20":35,"TNT":45,"NO":0,"NO₂":5,"NO₃":0,"H₂O":0,"N₂":0,"NH₃":0,"CO":0,"CO₂":0},{"t":2,"CL-20":10,"TNT":15,"NO":0,"NO₂":12,"NO₃":0,"H₂O":0,"N₂":0,"NH₃":0,"CO":0,"CO₂":0},{"t":3,"CL-20":3,"TNT":8,"NO":0,"NO₂":15,"NO₃":1,"H₂O":0,"N₂":1,"NH₃":0,"CO":0,"CO₂":0},{"t":4,"CL-20":1,"TNT":3,"NO":0,"NO₂":18,"NO₃":2,"H₂O":0,"N₂":3,"NH₃":0,"CO":0,"CO₂":0},{"t":5,"CL-20":0,"TNT":1,"NO":0,"NO₂":20,"NO₃":4,"H₂O":0,"N₂":6,"NH₃":0,"CO":0,"CO₂":0},{"t":6,"CL-20":0,"TNT":0,"NO":0,"NO₂":22,"NO₃":5,"H₂O":1,"N₂":10,"NH₃":0,"CO":0,"CO₂":0},{"t":7,"CL-20":0,"TNT":0,"NO":0,"NO₂":18,"NO₃":6,"H₂O":1,"N₂":15,"NH₃":0,"CO":0,"CO₂":0},{"t":8,"CL-20":0,"TNT":0,"NO":1,"NO₂":25,"NO₃":7,"H₂O":2,"N₂":22,"NH₃":0,"CO":0,"CO₂":0},{"t":9,"CL-20":0,"TNT":0,"NO":2,"NO₂":20,"NO₃":8,"H₂O":4,"N₂":30,"NH₃":0,"CO":0,"CO₂":0},
{"t":10,"CL-20":0,"TNT":0,"NO":2,"NO₂":22,"NO₃":9,"H₂O":6,"N₂":45,"NH₃":0,"CO":0,"CO₂":0},{"t":11,"CL-20":0,"TNT":0,"NO":3,"NO₂":18,"NO₃":6,"H₂O":8,"N₂":55,"NH₃":0,"CO":0,"CO₂":0},{"t":12,"CL-20":0,"TNT":0,"NO":2,"NO₂":25,"NO₃":5,"H₂O":10,"N₂":65,"NH₃":0,"CO":0,"CO₂":0},{"t":13,"CL-20":0,"TNT":0,"NO":4,"NO₂":22,"NO₃":4,"H₂O":12,"N₂":75,"NH₃":0,"CO":0,"CO₂":0},{"t":14,"CL-20":0,"TNT":0,"NO":3,"NO₂":28,"NO₃":5,"H₂O":15,"N₂":85,"NH₃":0,"CO":0,"CO₂":0},{"t":15,"CL-20":0,"TNT":0,"NO":2,"NO₂":22,"NO₃":4,"H₂O":18,"N₂":95,"NH₃":0,"CO":0,"CO₂":0},{"t":16,"CL-20":0,"TNT":0,"NO":3,"NO₂":25,"NO₃":3,"H₂O":20,"N₂":105,"NH₃":0,"CO":0,"CO₂":0},{"t":17,"CL-20":0,"TNT":0,"NO":4,"NO₂":20,"NO₃":2,"H₂O":25,"N₂":112,"NH₃":3,"CO":0,"CO₂":2},{"t":18,"CL-20":0,"TNT":0,"NO":2,"NO₂":15,"NO₃":1,"H₂O":32,"N₂":120,"NH₃":8,"CO":0,"CO₂":5},{"t":19,"CL-20":0,"TNT":0,"NO":3,"NO₂":12,"NO₃":0,"H₂O":38,"N₂":130,"NH₃":12,"CO":0,"CO₂":8},
{"t":20,"CL-20":0,"TNT":0,"NO":2,"NO₂":8,"NO₃":0,"H₂O":42,"N₂":138,"NH₃":15,"CO":0,"CO₂":12},{"t":21,"CL-20":0,"TNT":0,"NO":1,"NO₂":4,"NO₃":0,"H₂O":50,"N₂":145,"NH₃":20,"CO":0,"CO₂":15},{"t":22,"CL-20":0,"TNT":0,"NO":1,"NO₂":2,"NO₃":0,"H₂O":55,"N₂":155,"NH₃":25,"CO":0,"CO₂":18},{"t":23,"CL-20":0,"TNT":0,"NO":0,"NO₂":1,"NO₃":0,"H₂O":52,"N₂":160,"NH₃":30,"CO":0,"CO₂":20},{"t":24,"CL-20":0,"TNT":0,"NO":0,"NO₂":0,"NO₃":0,"H₂O":50,"N₂":165,"NH₃":38,"CO":0,"CO₂":18},{"t":25,"CL-20":0,"TNT":0,"NO":0,"NO₂":0,"NO₃":0,"H₂O":48,"N₂":158,"NH₃":40,"CO":0,"CO₂":22},{"t":26,"CL-20":0,"TNT":0,"NO":0,"NO₂":0,"NO₃":0,"H₂O":45,"N₂":170,"NH₃":38,"CO":1,"CO₂":20},{"t":27,"CL-20":0,"TNT":0,"NO":0,"NO₂":0,"NO₃":0,"H₂O":50,"N₂":165,"NH₃":35,"CO":0,"CO₂":22},{"t":28,"CL-20":0,"TNT":0,"NO":0,"NO₂":0,"NO₃":0,"H₂O":55,"N₂":175,"NH₃":30,"CO":1,"CO₂":25},{"t":29,"CL-20":0,"TNT":0,"NO":0,"NO₂":0,"NO₃":0,"H₂O":52,"N₂":170,"NH₃":32,"CO":1,"CO₂":20},
{"t":30,"CL-20":0,"TNT":0,"NO":0,"NO₂":0,"NO₃":0,"H₂O":48,"N₂":180,"NH₃":35,"CO":0,"CO₂":28},{"t":31,"CL-20":0,"TNT":0,"NO":0,"NO₂":0,"NO₃":0,"H₂O":55,"N₂":178,"NH₃":38,"CO":1,"CO₂":25},{"t":32,"CL-20":0,"TNT":0,"NO":0,"NO₂":0,"NO₃":0,"H₂O":50,"N₂":185,"NH₃":40,"CO":1,"CO₂":30},{"t":33,"CL-20":0,"TNT":0,"NO":0,"NO₂":0,"NO₃":0,"H₂O":52,"N₂":180,"NH₃":45,"CO":2,"CO₂":32},{"t":34,"CL-20":0,"TNT":0,"NO":0,"NO₂":0,"NO₃":0,"H₂O":48,"N₂":190,"NH₃":42,"CO":1,"CO₂":28},{"t":35,"CL-20":0,"TNT":0,"NO":0,"NO₂":0,"NO₃":0,"H₂O":50,"N₂":185,"NH₃":40,"CO":1,"CO₂":25},{"t":36,"CL-20":0,"TNT":0,"NO":0,"NO₂":0,"NO₃":0,"H₂O":55,"N₂":192,"NH₃":45,"CO":2,"CO₂":20},{"t":37,"CL-20":0,"TNT":0,"NO":0,"NO₂":0,"NO₃":0,"H₂O":50,"N₂":180,"NH₃":38,"CO":1,"CO₂":18},{"t":38,"CL-20":0,"TNT":0,"NO":0,"NO₂":0,"NO₃":0,"H₂O":52,"N₂":188,"NH₃":42,"CO":1,"CO₂":22},{"t":39,"CL-20":0,"TNT":0,"NO":0,"NO₂":0,"NO₃":0,"H₂O":48,"N₂":195,"NH₃":35,"CO":2,"CO₂":20},
{"t":40,"CL-20":0,"TNT":0,"NO":0,"NO₂":0,"NO₃":0,"H₂O":50,"N₂":185,"NH₃":38,"CO":1,"CO₂":25},{"t":41,"CL-20":0,"TNT":0,"NO":0,"NO₂":0,"NO₃":0,"H₂O":55,"N₂":192,"NH₃":32,"CO":2,"CO₂":22},{"t":42,"CL-20":0,"TNT":0,"NO":0,"NO₂":0,"NO₃":0,"H₂O":52,"N₂":200,"NH₃":35,"CO":1,"CO₂":28},{"t":43,"CL-20":0,"TNT":0,"NO":0,"NO₂":0,"NO₃":0,"H₂O":50,"N₂":195,"NH₃":30,"CO":2,"CO₂":30},{"t":44,"CL-20":0,"TNT":0,"NO":0,"NO₂":0,"NO₃":0,"H₂O":48,"N₂":190,"NH₃":35,"CO":2,"CO₂":25},{"t":45,"CL-20":0,"TNT":0,"NO":0,"NO₂":0,"NO₃":0,"H₂O":55,"N₂":205,"NH₃":28,"CO":1,"CO₂":28},{"t":46,"CL-20":0,"TNT":0,"NO":0,"NO₂":0,"NO₃":0,"H₂O":50,"N₂":210,"NH₃":30,"CO":2,"CO₂":22},{"t":47,"CL-20":0,"TNT":0,"NO":0,"NO₂":0,"NO₃":0,"H₂O":52,"N₂":200,"NH₃":32,"CO":3,"CO₂":25},{"t":48,"CL-20":0,"TNT":0,"NO":0,"NO₂":0,"NO₃":0,"H₂O":62,"N₂":208,"NH₃":28,"CO":2,"CO₂":28},{"t":49,"CL-20":0,"TNT":0,"NO":0,"NO₂":0,"NO₃":0,"H₂O":55,"N₂":190,"NH₃":30,"CO":2,"CO₂":25},
{"t":50,"CL-20":0,"TNT":0,"NO":0,"NO₂":0,"NO₃":0,"H₂O":52,"N₂":185,"NH₃":32,"CO":3,"CO₂":30}
]
},
"concat":[
{"width":207,"height":166,"title":{"text":"(a)"},"layer":[
 {"data":{"name":"a"},"transform":[{"fold":["CL-20","TNT","NO₂","NO₃"],"as":["species","amount"]}],"mark":{"type":"line","clip":true},
  "encoding":{"x":{"field":"t","type":"quantitative","scale":{"domain":[0,50],"nice":false},"axis":{"values":[0,10,20,30,40,50],"title":"time/ps","titleFontWeight":"normal","titleFont":"Liberation Serif","titleFontSize":10,"labelFont":"Liberation Serif","labelFontSize":9,"labelOverlap":false,"tickSize":-4,"labelPadding":7,"titlePadding":4}},
   "y":{"field":"amount","type":"quantitative","scale":{"domain":[0,70],"nice":false},"axis":{"values":[0,10,20,30,40,50,60,70],"title":"Amount_Fragment","titleFontWeight":"normal","titleFont":"Liberation Serif","titleFontSize":10,"labelFont":"Liberation Serif","labelFontSize":9,"labelOverlap":false,"tickSize":-4,"labelPadding":7,"titlePadding":5}},
   "color":{"field":"species","type":"nominal","scale":{"domain":["CL-20","TNT","NO","NO₂","NO₃"],"range":["#262626","#f5365c","#3a8c96","#4ee64e","#b67cf0"]},"legend":{"title":null,"orient":"none","legendX":21,"legendY":77,"rowPadding":0.3}}}},
 {"data":{"values":[{}]},"mark":{"type":"text","align":"right","baseline":"middle","fontSize":9.5},"encoding":{"x":{"datum":49.3,"type":"quantitative","axis":{"values":[0,10,20,30,40,50],"title":"time/ps","titleFontWeight":"normal","titleFont":"Liberation Serif","titleFontSize":10,"labelFont":"Liberation Serif","labelFontSize":9,"labelOverlap":false,"tickSize":-4,"labelPadding":7,"titlePadding":4}},"y":{"datum":66,"type":"quantitative","axis":{"values":[0,10,20,30,40,50,60,70],"title":"Amount_Fragment","titleFontWeight":"normal","titleFont":"Liberation Serif","titleFontSize":10,"labelFont":"Liberation Serif","labelFontSize":9,"labelOverlap":false,"tickSize":-4,"labelPadding":7,"titlePadding":5}},"text":{"value":"(a)7km/s@X"}}}
]},
{"width":209,"height":166,"title":{"text":"(b)"},"layer":[
 {"data":{"name":"b"},"transform":[{"fold":["CL-20","TNT","NO","NO₂","NO₃","H₂O","N₂"],"as":["species","amount"]}],"mark":{"type":"line","clip":true},
  "encoding":{"x":{"field":"t","type":"quantitative","scale":{"domain":[0,50],"nice":false},"axis":{"values":[0,10,20,30,40,50],"title":"time/ps","titleFontWeight":"normal","titleFont":"Liberation Serif","titleFontSize":10,"labelFont":"Liberation Serif","labelFontSize":9,"labelOverlap":false,"tickSize":-4,"labelPadding":7,"titlePadding":4}},
   "y":{"field":"amount","type":"quantitative","scale":{"domain":[0,70],"nice":false},"axis":{"values":[0,10,20,30,40,50,60,70],"title":"Amount_Fragment","titleFontWeight":"normal","titleFont":"Liberation Serif","titleFontSize":10,"labelFont":"Liberation Serif","labelFontSize":9,"labelOverlap":false,"tickSize":-4,"labelPadding":7,"titlePadding":5}},
   "color":{"field":"species","type":"nominal","scale":{"domain":["CL-20","TNT","NO","NO₂","NO₃","H₂O","N₂"],"range":["#262626","#f5365c","#2f7fa8","#4ee64e","#b67cf0","#c9a227","#5af2c2"]},"legend":{"title":null,"orient":"none","legendX":124,"legendY":19,"rowPadding":0}}}},
 {"data":{"values":[{}]},"mark":{"type":"text","align":"right","baseline":"middle","fontSize":9.5},"encoding":{"x":{"datum":49.3,"type":"quantitative","axis":{"values":[0,10,20,30,40,50],"title":"time/ps","titleFontWeight":"normal","titleFont":"Liberation Serif","titleFontSize":10,"labelFont":"Liberation Serif","labelFontSize":9,"labelOverlap":false,"tickSize":-4,"labelPadding":7,"titlePadding":4}},"y":{"datum":66,"type":"quantitative","axis":{"values":[0,10,20,30,40,50,60,70],"title":"Amount_Fragment","titleFontWeight":"normal","titleFont":"Liberation Serif","titleFontSize":10,"labelFont":"Liberation Serif","labelFontSize":9,"labelOverlap":false,"tickSize":-4,"labelPadding":7,"titlePadding":5}},"text":{"value":"(b)8km/s@X"}}}
]},
{"width":214,"height":166,"title":{"text":"(c)"},"layer":[
 {"data":{"name":"c"},"transform":[{"fold":["CL-20","TNT","NO","NO₂","NO₃","H₂O","N₂","NH₃","CO","CO₂"],"as":["species","amount"]}],"mark":{"type":"line","clip":true},
  "encoding":{"x":{"field":"t","type":"quantitative","scale":{"domain":[0,50],"nice":false},"axis":{"values":[0,10,20,30,40,50],"title":"time/ps","titleFontWeight":"normal","titleFont":"Liberation Serif","titleFontSize":10,"labelFont":"Liberation Serif","labelFontSize":9,"labelOverlap":false,"tickSize":-4,"labelPadding":7,"titlePadding":4}},
   "y":{"field":"amount","type":"quantitative","scale":{"domain":[0,250],"nice":false},"axis":{"values":[0,50,100,150,200,250],"title":"Amount_Fragment","titleFontWeight":"normal","titleFont":"Liberation Serif","titleFontSize":10,"labelFont":"Liberation Serif","labelFontSize":9,"labelOverlap":false,"tickSize":-4,"labelPadding":7,"titlePadding":5}},
   "color":{"field":"species","type":"nominal","scale":{"domain":["CL-20","TNT","NO","NO₂","NO₃","H₂O","N₂","NH₃","CO","CO₂"],"range":["#262626","#f5365c","#2f7fa8","#4ee64e","#b67cf0","#c9a227","#5af2c2","#4d1a2e","#8fa84a","#ff5a36"]},"legend":{"title":null,"orient":"none","legendX":22,"legendY":9,"rowPadding":1.7}}}},
 {"data":{"values":[{}]},"mark":{"type":"text","align":"right","baseline":"middle","fontSize":9.5},"encoding":{"x":{"datum":49.3,"type":"quantitative","axis":{"values":[0,10,20,30,40,50],"title":"time/ps","titleFontWeight":"normal","titleFont":"Liberation Serif","titleFontSize":10,"labelFont":"Liberation Serif","labelFontSize":9,"labelOverlap":false,"tickSize":-4,"labelPadding":7,"titlePadding":4}},"y":{"datum":237,"type":"quantitative","axis":{"values":[0,50,100,150,200,250],"title":"Amount_Fragment","titleFontWeight":"normal","titleFont":"Liberation Serif","titleFontSize":10,"labelFont":"Liberation Serif","labelFontSize":9,"labelOverlap":false,"tickSize":-4,"labelPadding":7,"titlePadding":5}},"text":{"value":"(c)9km/s@X"}}}
]},
{"width":207,"height":167,"title":{"text":"(d)"},"layer":[
 {"data":{"name":"d"},"transform":[{"fold":["CL-20","TNT","NO₂","NO₃","N₂"],"as":["species","amount"]}],"mark":{"type":"line","clip":true},
  "encoding":{"x":{"field":"t","type":"quantitative","scale":{"domain":[0,50],"nice":false},"axis":{"values":[0,10,20,30,40,50],"title":"time/ps","titleFontWeight":"normal","titleFont":"Liberation Serif","titleFontSize":10,"labelFont":"Liberation Serif","labelFontSize":9,"labelOverlap":false,"tickSize":-4,"labelPadding":7,"titlePadding":4}},
   "y":{"field":"amount","type":"quantitative","scale":{"domain":[0,70],"nice":false},"axis":{"values":[0,10,20,30,40,50,60,70],"title":"Amount_Fragment","titleFontWeight":"normal","titleFont":"Liberation Serif","titleFontSize":10,"labelFont":"Liberation Serif","labelFontSize":9,"labelOverlap":false,"tickSize":-4,"labelPadding":7,"titlePadding":5}},
   "color":{"field":"species","type":"nominal","scale":{"domain":["CL-20","TNT","NO","NO₂","NO₃","N₂"],"range":["#262626","#f5365c","#2f7fa8","#4ee64e","#b67cf0","#5af2c2"]},"legend":{"title":null,"orient":"none","legendX":21,"legendY":76,"rowPadding":0.7}}}},
 {"data":{"values":[{}]},"mark":{"type":"text","align":"right","baseline":"middle","fontSize":9.5},"encoding":{"x":{"datum":49.3,"type":"quantitative","axis":{"values":[0,10,20,30,40,50],"title":"time/ps","titleFontWeight":"normal","titleFont":"Liberation Serif","titleFontSize":10,"labelFont":"Liberation Serif","labelFontSize":9,"labelOverlap":false,"tickSize":-4,"labelPadding":7,"titlePadding":4}},"y":{"datum":66,"type":"quantitative","axis":{"values":[0,10,20,30,40,50,60,70],"title":"Amount_Fragment","titleFontWeight":"normal","titleFont":"Liberation Serif","titleFontSize":10,"labelFont":"Liberation Serif","labelFontSize":9,"labelOverlap":false,"tickSize":-4,"labelPadding":7,"titlePadding":5}},"text":{"value":"(d)7km/s@Y"}}}
]},
{"width":209,"height":167,"title":{"text":"(e)"},"layer":[
 {"data":{"name":"e"},"transform":[{"fold":["CL-20","TNT","NO","NO₂","NO₃","H₂O","N₂","NH₃","CO₂"],"as":["species","amount"]}],"mark":{"type":"line","clip":true},
  "encoding":{"x":{"field":"t","type":"quantitative","scale":{"domain":[0,50],"nice":false},"axis":{"values":[0,10,20,30,40,50],"title":"time/ps","titleFontWeight":"normal","titleFont":"Liberation Serif","titleFontSize":10,"labelFont":"Liberation Serif","labelFontSize":9,"labelOverlap":false,"tickSize":-4,"labelPadding":7,"titlePadding":4}},
   "y":{"field":"amount","type":"quantitative","scale":{"domain":[0,130],"nice":false},"axis":{"values":[0,20,40,60,80,100,120],"title":"Amount_Fragment","titleFontWeight":"normal","titleFont":"Liberation Serif","titleFontSize":10,"labelFont":"Liberation Serif","labelFontSize":9,"labelOverlap":false,"tickSize":-4,"labelPadding":7,"titlePadding":5}},
   "color":{"field":"species","type":"nominal","scale":{"domain":["CL-20","TNT","NO","NO₂","NO₃","H₂O","N₂","NH₃","CO₂"],"range":["#262626","#f5365c","#2f7fa8","#4ee64e","#b67cf0","#c9a227","#5af2c2","#4d1a2e","#ff5a36"]},"legend":{"title":null,"orient":"none","legendX":47,"legendY":23,"rowPadding":2}}}},
 {"data":{"values":[{}]},"mark":{"type":"text","align":"right","baseline":"middle","fontSize":9.5},"encoding":{"x":{"datum":49.3,"type":"quantitative","axis":{"values":[0,10,20,30,40,50],"title":"time/ps","titleFontWeight":"normal","titleFont":"Liberation Serif","titleFontSize":10,"labelFont":"Liberation Serif","labelFontSize":9,"labelOverlap":false,"tickSize":-4,"labelPadding":7,"titlePadding":4}},"y":{"datum":123,"type":"quantitative","axis":{"values":[0,20,40,60,80,100,120],"title":"Amount_Fragment","titleFontWeight":"normal","titleFont":"Liberation Serif","titleFontSize":10,"labelFont":"Liberation Serif","labelFontSize":9,"labelOverlap":false,"tickSize":-4,"labelPadding":7,"titlePadding":5}},"text":{"value":"(e)8km/s@Y"}}}
]},
{"width":214,"height":167,"title":{"text":"(f)"},"layer":[
 {"data":{"name":"f"},"transform":[{"fold":["CL-20","TNT","NO","NO₂","NO₃","H₂O","N₂","NH₃","CO","CO₂"],"as":["species","amount"]}],"mark":{"type":"line","clip":true},
  "encoding":{"x":{"field":"t","type":"quantitative","scale":{"domain":[0,50],"nice":false},"axis":{"values":[0,10,20,30,40,50],"title":"time/ps","titleFontWeight":"normal","titleFont":"Liberation Serif","titleFontSize":10,"labelFont":"Liberation Serif","labelFontSize":9,"labelOverlap":false,"tickSize":-4,"labelPadding":7,"titlePadding":4}},
   "y":{"field":"amount","type":"quantitative","scale":{"domain":[0,250],"nice":false},"axis":{"values":[0,50,100,150,200,250],"title":"Amount_Fragment","titleFontWeight":"normal","titleFont":"Liberation Serif","titleFontSize":10,"labelFont":"Liberation Serif","labelFontSize":9,"labelOverlap":false,"tickSize":-4,"labelPadding":7,"titlePadding":5}},
   "color":{"field":"species","type":"nominal","scale":{"domain":["CL-20","TNT","NO","NO₂","NO₃","H₂O","N₂","NH₃","CO","CO₂"],"range":["#262626","#f5365c","#2f7fa8","#4ee64e","#b67cf0","#c9a227","#5af2c2","#4d1a2e","#8fa84a","#ff5a36"]},"legend":{"title":null,"orient":"none","legendX":20,"legendY":18,"rowPadding":1.6,"labelExpr":"datum.label == 'NO₃' ? 'NO₂' : datum.label"}}}},
 {"data":{"values":[{}]},"mark":{"type":"text","align":"right","baseline":"middle","fontSize":9.5},"encoding":{"x":{"datum":49.3,"type":"quantitative","axis":{"values":[0,10,20,30,40,50],"title":"time/ps","titleFontWeight":"normal","titleFont":"Liberation Serif","titleFontSize":10,"labelFont":"Liberation Serif","labelFontSize":9,"labelOverlap":false,"tickSize":-4,"labelPadding":7,"titlePadding":4}},"y":{"datum":237,"type":"quantitative","axis":{"values":[0,50,100,150,200,250],"title":"Amount_Fragment","titleFontWeight":"normal","titleFont":"Liberation Serif","titleFontSize":10,"labelFont":"Liberation Serif","labelFontSize":9,"labelOverlap":false,"tickSize":-4,"labelPadding":7,"titlePadding":5}},"text":{"value":"(f)9km/s@Y"}}}
]},
{"width":207,"height":169,"title":{"text":"(g)"},"layer":[
 {"data":{"name":"g"},"transform":[{"fold":["CL-20","TNT","NO₂","NO₃"],"as":["species","amount"]}],"mark":{"type":"line","clip":true},
  "encoding":{"x":{"field":"t","type":"quantitative","scale":{"domain":[0,50],"nice":false},"axis":{"values":[0,10,20,30,40,50],"title":"time/ps","titleFontWeight":"normal","titleFont":"Liberation Serif","titleFontSize":10,"labelFont":"Liberation Serif","labelFontSize":9,"labelOverlap":false,"tickSize":-4,"labelPadding":7,"titlePadding":4}},
   "y":{"field":"amount","type":"quantitative","scale":{"domain":[0,70],"nice":false},"axis":{"values":[0,10,20,30,40,50,60,70],"title":"Amount_Fragment","titleFontWeight":"normal","titleFont":"Liberation Serif","titleFontSize":10,"labelFont":"Liberation Serif","labelFontSize":9,"labelOverlap":false,"tickSize":-4,"labelPadding":7,"titlePadding":5}},
   "color":{"field":"species","type":"nominal","scale":{"domain":["CL-20","TNT","NO₂","NO₃"],"range":["#262626","#f5365c","#4ee64e","#b67cf0"]},"legend":{"title":null,"orient":"none","legendX":69,"legendY":110,"rowPadding":3.3}}}},
 {"data":{"values":[{}]},"mark":{"type":"text","align":"right","baseline":"middle","fontSize":9.5},"encoding":{"x":{"datum":49.3,"type":"quantitative","axis":{"values":[0,10,20,30,40,50],"title":"time/ps","titleFontWeight":"normal","titleFont":"Liberation Serif","titleFontSize":10,"labelFont":"Liberation Serif","labelFontSize":9,"labelOverlap":false,"tickSize":-4,"labelPadding":7,"titlePadding":4}},"y":{"datum":66,"type":"quantitative","axis":{"values":[0,10,20,30,40,50,60,70],"title":"Amount_Fragment","titleFontWeight":"normal","titleFont":"Liberation Serif","titleFontSize":10,"labelFont":"Liberation Serif","labelFontSize":9,"labelOverlap":false,"tickSize":-4,"labelPadding":7,"titlePadding":5}},"text":{"value":"(g)7km/s@Z"}}}
]},
{"width":209,"height":169,"title":{"text":"(h)"},"layer":[
 {"data":{"name":"h"},"transform":[{"fold":["CL-20","TNT","NO","NO₂","NO₃","H₂O","N₂","CO₂"],"as":["species","amount"]}],"mark":{"type":"line","clip":true},
  "encoding":{"x":{"field":"t","type":"quantitative","scale":{"domain":[0,50],"nice":false},"axis":{"values":[0,10,20,30,40,50],"title":"time/ps","titleFontWeight":"normal","titleFont":"Liberation Serif","titleFontSize":10,"labelFont":"Liberation Serif","labelFontSize":9,"labelOverlap":false,"tickSize":-4,"labelPadding":7,"titlePadding":4}},
   "y":{"field":"amount","type":"quantitative","scale":{"domain":[0,110],"nice":false},"axis":{"values":[0,20,40,60,80,100],"title":"Amount_Fragment","titleFontWeight":"normal","titleFont":"Liberation Serif","titleFontSize":10,"labelFont":"Liberation Serif","labelFontSize":9,"labelOverlap":false,"tickSize":-4,"labelPadding":7,"titlePadding":5}},
   "color":{"field":"species","type":"nominal","scale":{"domain":["CL-20","TNT","NO","NO₂","NO₃","H₂O","N₂","CO₂"],"range":["#262626","#f5365c","#2f7fa8","#4ee64e","#b67cf0","#c9a227","#5af2c2","#ff5a36"]},"legend":{"title":null,"orient":"none","legendX":108,"legendY":26,"rowPadding":3.4}}}},
 {"data":{"values":[{}]},"mark":{"type":"text","align":"right","baseline":"middle","fontSize":9.5},"encoding":{"x":{"datum":49.3,"type":"quantitative","axis":{"values":[0,10,20,30,40,50],"title":"time/ps","titleFontWeight":"normal","titleFont":"Liberation Serif","titleFontSize":10,"labelFont":"Liberation Serif","labelFontSize":9,"labelOverlap":false,"tickSize":-4,"labelPadding":7,"titlePadding":4}},"y":{"datum":104,"type":"quantitative","axis":{"values":[0,20,40,60,80,100],"title":"Amount_Fragment","titleFontWeight":"normal","titleFont":"Liberation Serif","titleFontSize":10,"labelFont":"Liberation Serif","labelFontSize":9,"labelOverlap":false,"tickSize":-4,"labelPadding":7,"titlePadding":5}},"text":{"value":"(h)8km/s@Z"}}}
]},
{"width":214,"height":169,"title":{"text":"(i)"},"layer":[
 {"data":{"name":"i"},"transform":[{"fold":["CL-20","TNT","NO","NO₂","NO₃","H₂O","N₂","NH₃","CO","CO₂"],"as":["species","amount"]}],"mark":{"type":"line","clip":true},
  "encoding":{"x":{"field":"t","type":"quantitative","scale":{"domain":[0,50],"nice":false},"axis":{"values":[0,10,20,30,40,50],"title":"time/ps","titleFontWeight":"normal","titleFont":"Liberation Serif","titleFontSize":10,"labelFont":"Liberation Serif","labelFontSize":9,"labelOverlap":false,"tickSize":-4,"labelPadding":7,"titlePadding":4}},
   "y":{"field":"amount","type":"quantitative","scale":{"domain":[0,250],"nice":false},"axis":{"values":[0,50,100,150,200,250],"title":"Amount_Fragment","titleFontWeight":"normal","titleFont":"Liberation Serif","titleFontSize":10,"labelFont":"Liberation Serif","labelFontSize":9,"labelOverlap":false,"tickSize":-4,"labelPadding":7,"titlePadding":5}},
   "color":{"field":"species","type":"nominal","scale":{"domain":["CL-20","TNT","NO","NO₂","NO₃","H₂O","N₂","NH₃","CO","CO₂"],"range":["#262626","#f5365c","#2f7fa8","#4ee64e","#b67cf0","#c9a227","#5af2c2","#4d1a2e","#8fa84a","#ff5a36"]},"legend":{"title":null,"orient":"none","legendX":22,"legendY":18,"rowPadding":1}}}},
 {"data":{"values":[{}]},"mark":{"type":"text","align":"right","baseline":"middle","fontSize":9.5},"encoding":{"x":{"datum":49.3,"type":"quantitative","axis":{"values":[0,10,20,30,40,50],"title":"time/ps","titleFontWeight":"normal","titleFont":"Liberation Serif","titleFontSize":10,"labelFont":"Liberation Serif","labelFontSize":9,"labelOverlap":false,"tickSize":-4,"labelPadding":7,"titlePadding":4}},"y":{"datum":237,"type":"quantitative","axis":{"values":[0,50,100,150,200,250],"title":"Amount_Fragment","titleFontWeight":"normal","titleFont":"Liberation Serif","titleFontSize":10,"labelFont":"Liberation Serif","labelFontSize":9,"labelOverlap":false,"tickSize":-4,"labelPadding":7,"titlePadding":5}},"text":{"value":"(i)9km/s@Z"}}}
]}
],
"resolve":{"scale":{"color":"independent"}}
}
